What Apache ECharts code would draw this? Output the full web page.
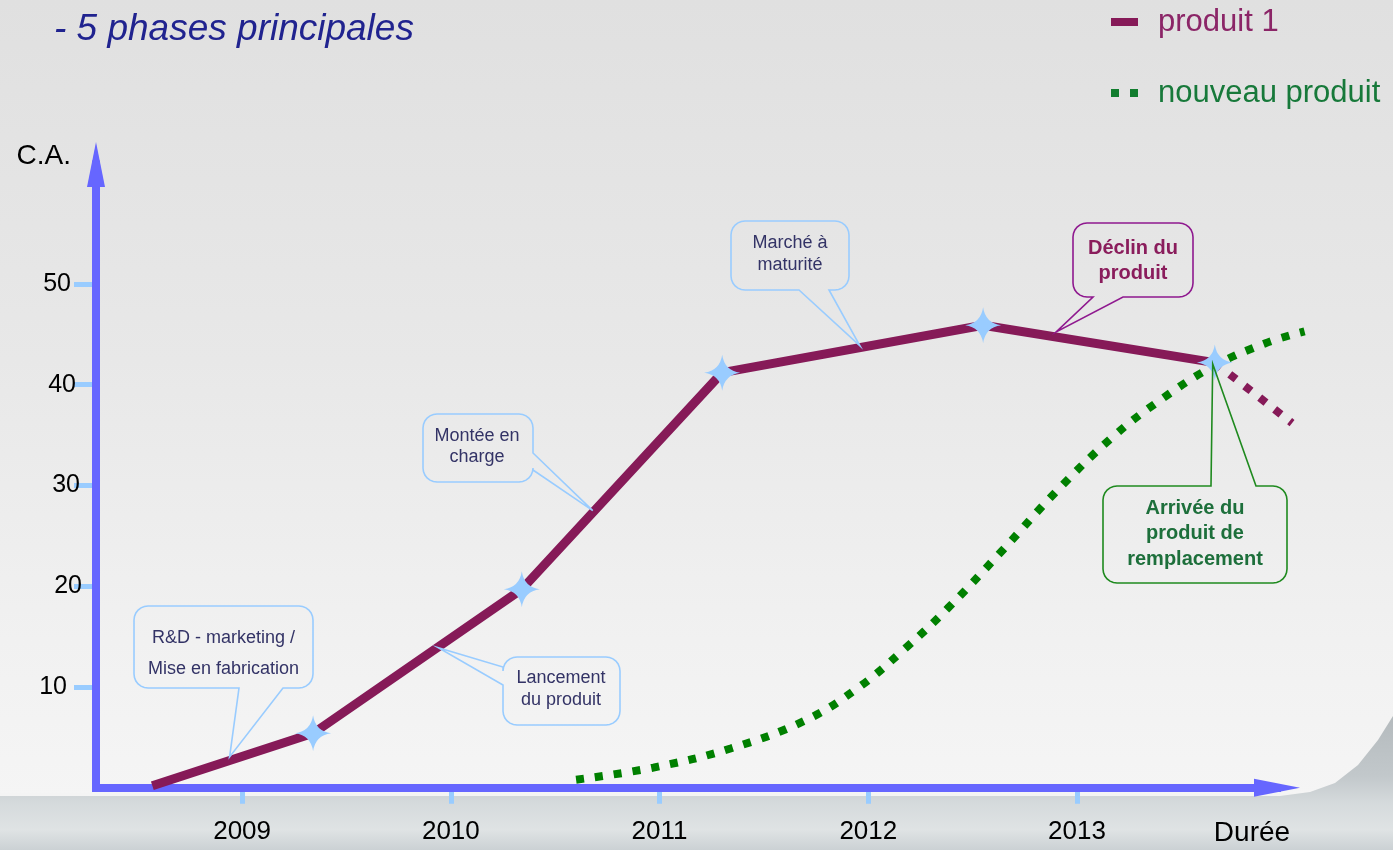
<!DOCTYPE html>
<html><head><meta charset="utf-8">
<script src="https://cdn.jsdelivr.net/npm/echarts@6/dist/echarts.min.js"></script>
<style>html,body{margin:0;padding:0;background:#e6e6e6;} #c{width:1393px;height:850px;}</style>
</head><body><div id="c"></div>
<script>
// ---------- data ----------
const years = [2009, 2010, 2011, 2012, 2013];
const caTicks = [10, 20, 30, 40, 50];
const produit1X = [2008.57, 2009.34, 2010.34, 2011.30, 2012.55, 2013.66];
const produit1Y = [0.2, 5.4, 19.7, 41.2, 45.9, 42.2];
const declinX = [2013.66, 2014.03];
const declinY = [42.2, 36.2];
const nouveauX = [2010.60, 2010.97, 2011.34, 2011.70, 2011.95, 2012.17, 2012.38, 2012.64, 2012.90, 2013.17, 2013.40, 2013.65, 2013.90, 2014.09];
const nouveauY = [0.8, 2.0, 3.9, 6.7, 9.9, 13.7, 17.8, 23.5, 29.4, 34.8, 38.5, 41.8, 44.1, 45.3];
const calloutTexts = [
  ['R&D - marketing /', 'Mise en fabrication'],
  ['Montée en', 'charge'],
  ['Lancement', 'du produit'],
  ['Marché à', 'maturité'],
  ['Déclin du', 'produit'],
  ['Arrivée du', 'produit de', 'remplacement']
];
const calloutAnchors = [[2008.94, 3.05], [2010.68, 27.5], [2009.94, 13.9], [2011.96, 43.85], [2012.90, 45.24], [2013.65, 42.06]];

// ---------- layout / style ----------
const FONT = '"Liberation Sans", Arial, sans-serif';
const calloutLayout = [
  {box: [134, 606, 179, 82], side: 'bottom', a: 239, c: 283, tx: 223.5, ty: 653.5, lh: 31, stroke: '#99ccff', color: '#333366', weight: 'normal', size: 18},
  {box: [423, 414, 110, 68], side: 'right', a: 453, c: 470, tx: 477, ty: 446.5, lh: 21, stroke: '#99ccff', color: '#333366', weight: 'normal', size: 18},
  {box: [503, 657, 117, 68], side: 'left', a: 667, c: 685, tx: 561, ty: 689, lh: 22, stroke: '#99ccff', color: '#333366', weight: 'normal', size: 18},
  {box: [731, 221, 118, 69], side: 'bottom', a: 799, c: 829, tx: 790, ty: 254, lh: 22, stroke: '#99ccff', color: '#333366', weight: 'normal', size: 18},
  {box: [1073, 223, 120, 74], side: 'bottom', a: 1093, c: 1123, tx: 1133, ty: 260.5, lh: 25, stroke: '#8f198f', color: '#8a1d5c', weight: 'bold', size: 20},
  {box: [1103, 486, 184, 97], side: 'top', a: 1211, c: 1256, tx: 1195, ty: 533.5, lh: 25.5, stroke: '#1f8a1f', color: '#1d6f3b', weight: 'bold', size: 20}
];
const yLabelPad = {10: 15, 20: 0, 30: 2, 40: 6, 50: 11};

const STAR = 'path://M0,-16 Q2,-2 16,0 Q2,2 0,16 Q-2,2 -16,0 Q-2,-2 0,-16 Z';
const P1 = '#861a58', GREEN = '#008000', AXIS = '#6666ff', TICK = '#99ccff';

const chart = echarts.init(document.getElementById('c'), null, {renderer: 'canvas'});

const p1Data = produit1X.map((x, i) => i === 0 ? {value: [x, produit1Y[i]], symbol: 'none'} : [x, produit1Y[i]]);
const declinData = declinX.map((x, i) => [x, declinY[i]]);
const nouveauData = nouveauX.map((x, i) => [x, nouveauY[i]]);

const rich = {};
caTicks.forEach(v => { rich['p' + v] = {fontSize: 25, fontFamily: FONT, color: '#000', padding: [0, yLabelPad[v], 0, 0]}; });

// two grids with the same scale: the data grid is wider so the marks can run under the arrow heads
const X_MIN = 2008.3, X_MAX_AXIS = 2013.958, PX_AXIS_W = 1393 - 96 - 116;
const PX_DATA_W = 1393 - 96 - 63;
const X_MAX_DATA = X_MIN + (X_MAX_AXIS - X_MIN) * PX_DATA_W / PX_AXIS_W;
const grids = [
  {left: 96, right: 63, top: 164.5, bottom: 62.25, outerBoundsMode: 'none', containLabel: false},
  {left: 96, right: 116, top: 164.5, bottom: 62.25, outerBoundsMode: 'none', containLabel: false}
];
const yCommon = {type: 'value', min: 0, max: 61.86, splitLine: {show: false}};

chart.setOption({
  animation: false,
  backgroundColor: 'transparent',
  title: {
    text: '- 5 phases principales', left: 54, top: 11, padding: 0,
    textStyle: {fontFamily: FONT, fontSize: 37, fontStyle: 'italic', fontWeight: 'normal', color: '#20238f'}
  },
  legend: {
    orient: 'vertical', left: 1111, top: 4, padding: 0, itemWidth: 27, itemHeight: 8, itemGap: 35, selectedMode: false,
    textStyle: {fontFamily: FONT, fontSize: 31, lineHeight: 36, padding: [0, 0, 0, 15]},
    data: [
      {name: 'produit 1', icon: 'path://M0,0h27v8h-27z', itemStyle: {color: P1, borderWidth: 0}, textStyle: {color: '#8b2567'}},
      {name: 'nouveau produit', icon: 'path://M0,0h8v8h-8z M19,0h8v8h-8z', itemStyle: {color: '#117d2e', borderWidth: 0}, textStyle: {color: '#17793a'}}
    ]
  },
  grid: grids,
  xAxis: [
    {
      type: 'value', gridIndex: 0, min: X_MIN, max: X_MAX_DATA, splitLine: {show: false},
      position: 'bottom', offset: 4,
      axisLine: {show: false},
      axisTick: {show: true, customValues: years, length: 16, lineStyle: {color: TICK, width: 5}},
      axisLabel: {show: true, customValues: years, margin: 27, fontSize: 26, fontFamily: FONT, color: '#000', formatter: v => String(v)}
    },
    {
      type: 'value', gridIndex: 1, min: X_MIN, max: X_MAX_AXIS, splitLine: {show: false},
      position: 'bottom', offset: 0, z: 3,
      axisLine: {show: true, symbol: ['none', 'triangle'], symbolSize: [18, 46], lineStyle: {color: AXIS, width: 8, cap: 'square'}},
      axisTick: {show: false}, axisLabel: {show: false},
      name: 'Durée', nameLocation: 'end', nameGap: -25,
      nameTextStyle: {fontFamily: FONT, fontSize: 28, color: '#000', align: 'center', verticalAlign: 'top', lineHeight: 92}
    }
  ],
  yAxis: [
    Object.assign({}, yCommon, {
      gridIndex: 0, position: 'left', offset: 4,
      axisLine: {show: false},
      axisTick: {show: true, customValues: caTicks, length: 18, lineStyle: {color: TICK, width: 5}},
      axisLabel: {show: true, customValues: caTicks, margin: 10, formatter: v => '{p' + v + '|' + v + '}', rich: rich}
    }),
    Object.assign({}, yCommon, {
      gridIndex: 1, position: 'left', offset: 0, z: 3,
      axisLine: {show: true, symbol: ['none', 'triangle'], symbolSize: [18, 45], lineStyle: {color: AXIS, width: 8, cap: 'square'}},
      axisTick: {show: false}, axisLabel: {show: false},
      name: 'C.A.', nameLocation: 'end', nameGap: 8,
      nameTextStyle: {fontFamily: FONT, fontSize: 28, color: '#000', align: 'right', verticalAlign: 'middle', padding: [0, 25, 0, 0]}
    })
  ],
  series: [
    {
      name: 'nouveau produit', type: 'line', xAxisIndex: 0, yAxisIndex: 0, z: 2, clip: false, smooth: 0.4, symbol: 'none',
      data: nouveauData, silent: true,
      lineStyle: {color: GREEN, width: 8, type: [8, 11], cap: 'butt'}, itemStyle: {color: GREEN}
    },
    {
      name: 'produit 1', type: 'line', xAxisIndex: 0, yAxisIndex: 0, z: 3, clip: false, symbol: 'none',
      data: declinData, silent: true,
      lineStyle: {color: P1, width: 8, type: [8, 11], cap: 'butt'}, itemStyle: {color: P1}
    },
    {
      name: 'produit 1', type: 'line', xAxisIndex: 0, yAxisIndex: 0, z: 4, clip: false, symbol: STAR, symbolSize: 36, showSymbol: true,
      data: p1Data, silent: true,
      lineStyle: {color: P1, width: 9}, itemStyle: {color: '#99ccff'}
    }
  ]
});

// ---------- callouts & background ----------
function bubblePoints(L, tip) {
  const [x, y, w, h] = L.box, r = 14, R = x + w, B = y + h, pts = [];
  const arc = (cx, cy, a0, a1) => { for (let i = 0; i <= 6; i++) { const t = a0 + (a1 - a0) * i / 6; pts.push([cx + r * Math.cos(t), cy + r * Math.sin(t)]); } };
  arc(x + r, y + r, Math.PI, 1.5 * Math.PI);
  if (L.side === 'top') pts.push([L.a, y], tip, [L.c, y]);
  arc(R - r, y + r, -0.5 * Math.PI, 0);
  if (L.side === 'right') pts.push([R, L.a], tip, [R, L.c]);
  arc(R - r, B - r, 0, 0.5 * Math.PI);
  if (L.side === 'bottom') pts.push([L.c, B], tip, [L.a, B]);
  arc(x + r, B - r, 0.5 * Math.PI, Math.PI);
  if (L.side === 'left') pts.push([x, L.c], tip, [x, L.a]);
  return pts;
}

const graphics = [
  {type: 'rect', z: -100, silent: true, shape: {x: 0, y: 0, width: 1393, height: 800},
   style: {fill: new echarts.graphic.LinearGradient(0, 0, 0, 1, [
     {offset: 0, color: '#e0e0e0'}, {offset: 0.45, color: '#e8e8e8'}, {offset: 0.8, color: '#f1f1f1'}, {offset: 1, color: '#f5f5f5'}])}},
  {type: 'rect', z: -99, silent: true, shape: {x: 0, y: 793, width: 1300, height: 3}, style: {fill: '#f4f4f4'}},
  {type: 'polygon', z: -99, silent: true,
   shape: {points: [[0, 796], [1280, 796], [1310, 792], [1335, 783], [1358, 765], [1378, 740], [1393, 716], [1393, 850], [0, 850]]},
   style: {fill: new echarts.graphic.LinearGradient(0, 0, 0, 1, [
     {offset: 0, color: '#b4babd'}, {offset: 0.45, color: '#c2c8cb'}, {offset: 0.65, color: '#d5dadc'}, {offset: 0.85, color: '#dfe3e4'}, {offset: 1, color: '#cbd1d4'}])}}
];

calloutLayout.forEach((L, i) => {
  const tip = chart.convertToPixel({xAxisIndex: 0, yAxisIndex: 0}, calloutAnchors[i]);
  graphics.push({type: 'polygon', z: 20, silent: true, shape: {points: bubblePoints(L, tip)},
    style: {fill: 'none', stroke: L.stroke, lineWidth: 1.6}});
  graphics.push({type: 'text', z: 21, silent: true, x: L.tx, y: L.ty,
    style: {text: calloutTexts[i].join('\n'), fill: L.color, font: L.weight + ' ' + L.size + 'px ' + FONT,
      align: 'center', verticalAlign: 'middle', lineHeight: L.lh}});
});

chart.setOption({graphic: graphics});
</script></body></html>
